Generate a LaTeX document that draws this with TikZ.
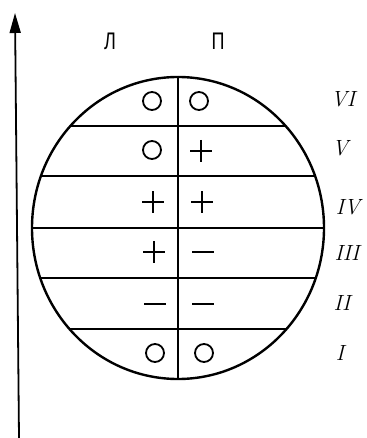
\documentclass[tikz,border=0pt]{standalone}
\usepackage{fontspec}
\newfontfamily\cyrfont{Liberation Sans}
\usetikzlibrary{arrows.meta, shapes.geometric}

\begin{document}
\begin{tikzpicture}[x=1pt, y=-1pt,
    every node/.style={inner sep=0pt},
    disc/.style={ellipse, draw, line width=2.4pt, minimum width=292pt, minimum height=302pt},
    band/.style={line width=1.3pt},
    axis/.style={-{Triangle[length=20pt, width=11pt]}, line width=1.8pt},
    side/.style={font=\cyrfont\fontsize{24}{24}\selectfont, xscale=0.75},
    num/.style={font=\fontsize{22}{22}\selectfont\itshape},
    zero/.style={circle, draw, line width=1.8pt, minimum size=18pt},
    plussign/.pic={\draw[line width=1.8pt] (-11,0) -- (11,0) (0,-11) -- (0,11);},
    minussign/.pic={\draw[line width=1.8pt] (-11,0) -- (11,0);}
  ]
    \useasboundingbox (0,0) rectangle (366,438);

    % axis
    \coordinate (axbot) at (19,438);
    \coordinate (axtop) at (15,13);
    \draw[axis] (axbot) -- (axtop);

    % side labels
    \node[side] (left)  at (110,41) {Л};
    \node[side] (right) at (218,41) {П};

    % disc with bands
    \node[disc] (disc) at (178,228) {};
    \begin{scope}
      \clip (178,228) ellipse [x radius=146, y radius=151];
      \foreach \y in {126,176,228,278,329}
        \draw[band] (0,\y) -- (366,\y);
    \end{scope}
    \draw[band] (disc.north) -- (disc.south);

    % marks, row by row
    \node[zero] (z6l) at (152,101) {};
    \node[zero] (z6r) at (199,101) {};
    \node[zero] (z5l) at (152,150) {};
    \pic (p5r) at (201,151) {plussign};
    \pic (p4l) at (153,202) {plussign};
    \pic (p4r) at (202,202) {plussign};
    \pic (p3l) at (154,252) {plussign};
    \pic (m3r) at (203,252) {minussign};
    \pic (m2l) at (155,304) {minussign};
    \pic (m2r) at (203,304) {minussign};
    \node[zero] (z1l) at (155,353) {};
    \node[zero] (z1r) at (204,353) {};

    % row numerals
    \node[num] (r6) at (343,99)  {VI};
    \node[num] (r5) at (340,148) {V};
    \node[num] (r4) at (348,207) {IV};
    \node[num] (r3) at (347,253) {III};
    \node[num] (r2) at (342,303) {II};
    \node[num] (r1) at (340,353) {I};
  \end{tikzpicture}
\end{document}
